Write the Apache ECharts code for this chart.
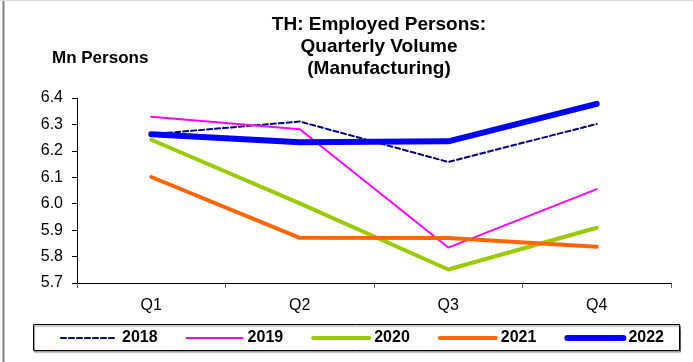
<!DOCTYPE html>
<html><head><meta charset="utf-8">
<script src="https://cdn.jsdelivr.net/npm/echarts@6/dist/echarts.min.js"></script>
<style>html,body{margin:0;padding:0;background:#fff}#c{width:693px;height:362px}</style>
</head><body><div id="c"></div>
<script>
const categories = ['Q1', 'Q2', 'Q3', 'Q4'];
const yTicks = ['5.7', '5.8', '5.9', '6.0', '6.1', '6.2', '6.3', '6.4'];
const s2018 = [6.263, 6.311, 6.158, 6.302];
const s2019 = [6.329, 6.282, 5.834, 6.055];
const s2020 = [6.242, 6.001, 5.751, 5.909];
const s2021 = [6.101, 5.871, 5.870, 5.837];
const s2022 = [6.263, 6.233, 6.236, 6.378];
const seriesNames = ['2018', '2019', '2020', '2021', '2022'];

const FONT = 'Liberation Sans, Arial, sans-serif';
const styles = [
  {color: '#000080', width: 2, type: [5, 3]},
  {color: '#FF00FF', width: 2, type: 'solid'},
  {color: '#99CC00', width: 4, type: 'solid'},
  {color: '#FF6600', width: 4, type: 'solid'},
  {color: '#0000FF', width: 6, type: 'solid'}
];
const values = [s2018, s2019, s2020, s2021, s2022];

const chart = echarts.init(document.getElementById('c'), null, {renderer: 'canvas'});
chart.setOption({
  animation: false,
  backgroundColor: '#fff',
  title: {
    text: 'TH: Employed Persons:\nQuarterly Volume\n(Manufacturing)',
    left: 374, top: 9, textAlign: 'center',
    textStyle: {fontFamily: FONT, fontSize: 19, fontWeight: 'bold', color: '#000', lineHeight: 22}
  },
  graphic: [
    {type: 'text', left: 52, top: 50, style: {text: 'Mn Persons', font: 'bold 17px ' + FONT, fill: '#000'}},
    {type: 'line', shape: {x1: 3.5, y1: 0, x2: 3.5, y2: 362}, style: {stroke: '#808080', lineWidth: 2}},
    {type: 'line', shape: {x1: 0, y1: 0.5, x2: 693, y2: 0.5}, style: {stroke: '#d8d8d8', lineWidth: 1}},
    {type: 'rect', shape: {x: 33.5, y: 324.5, width: 646, height: 26}, z: -1,
     style: {fill: '#fff', stroke: '#000', lineWidth: 1, shadowColor: 'rgba(0,0,0,0.45)', shadowOffsetX: 1, shadowOffsetY: 1.5, shadowBlur: 1}}
  ],
  legend: {
    left: 60, top: 330, padding: 0, itemWidth: 56, itemHeight: 14, itemGap: 28,
    itemStyle: {opacity: 0, borderWidth: 0},
    textStyle: {fontFamily: FONT, fontSize: 16, fontWeight: 'bold', color: '#000'},
    data: seriesNames.map((n, i) => ({name: n, itemStyle: {opacity: 0, borderWidth: 0}, lineStyle: {color: styles[i].color, width: styles[i].width, type: styles[i].type, cap: 'round', opacity: 1}}))
  },
  grid: {left: 77, right: 22, top: 98, bottom: 79},
  xAxis: {
    type: 'category', data: categories, boundaryGap: true,
    axisLine: {lineStyle: {color: '#000', width: 1}},
    axisTick: {show: true, length: 5, inside: false, lineStyle: {color: '#606060'}},
    axisLabel: {fontFamily: FONT, fontSize: 16, color: '#000', margin: 15}
  },
  yAxis: {
    type: 'value', min: 5.7, max: 6.4, interval: 0.1,
    splitLine: {show: false},
    axisLine: {show: true, lineStyle: {color: '#000', width: 1}},
    axisTick: {show: true, length: 5, lineStyle: {color: '#000'}},
    axisLabel: {fontFamily: FONT, fontSize: 16, color: '#000', margin: 14,
      formatter: v => { const t = v.toFixed(1); return yTicks.includes(t) ? t : ''; }}
  },
  series: seriesNames.map((n, i) => ({
    name: n, type: 'line', data: values[i], symbol: 'none', showSymbol: false,
    lineStyle: {color: styles[i].color, width: styles[i].width, type: styles[i].type, cap: 'round', join: 'round'},
    itemStyle: {color: styles[i].color},
    emphasis: {disabled: true}
  }))
});
</script></body></html>
